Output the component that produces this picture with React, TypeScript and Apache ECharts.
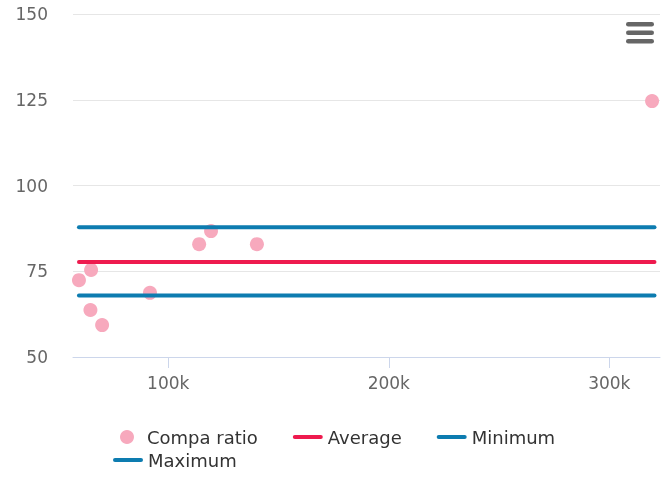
import React, { useEffect, useRef } from "react";
import * as echarts from "echarts";

const salaries = [59500, 65000, 64700, 70000, 91700, 114000, 119400, 140200, 319400];
const compaRatios = [72.4, 75.4, 63.7, 59.3, 68.7, 82.9, 86.7, 82.9, 124.6];
const lineRange = [59500, 320500];
const averageValue = 77.7;
const minimumValue = 67.9;
const maximumValue = 87.8;
const xTicks = [100000, 200000, 300000];

const LINE_ICON = "path://M2,0H28A2,2,0,0,1,28,4H2A2,2,0,0,1,2,0Z";

export default function App() {
  const ref = useRef<HTMLDivElement>(null);
  useEffect(() => {
    if (!ref.current) return;
    const chart = echarts.init(ref.current, undefined, { renderer: "svg" });
    const font = "DejaVu Sans";
    const scatterData = salaries.map((x, i) => [x, compaRatios[i]]);
    const hLine = (v: number) => lineRange.map((x) => [x, v]);
    const lineSeries = (name: string, v: number, color: string) => ({
      name,
      type: "line",
      data: hLine(v),
      symbol: "none",
      lineStyle: { color, width: 4, cap: "round" },
      itemStyle: { color },
      z: 3,
    });
    const legendText = { fontSize: 18, color: "#333333", fontFamily: font };
    chart.setOption({
      animation: false,
      grid: { left: 73, right: 8, top: 14, bottom: 120 },
      xAxis: {
        type: "value",
        min: 56800,
        max: 323000,
        splitLine: { show: false },
        axisLine: { show: true, lineStyle: { color: "#ccd6eb", width: 1 } },
        axisTick: { show: true, length: 11, lineStyle: { color: "#ccd6eb" }, customValues: xTicks },
        axisLabel: {
          customValues: xTicks,
          formatter: (v: number) => v / 1000 + "k",
          color: "#666666",
          fontSize: 17,
          fontFamily: font,
          margin: 17,
        },
      },
      yAxis: {
        type: "value",
        min: 50,
        max: 150,
        interval: 25,
        axisLine: { show: false },
        axisTick: { show: false },
        splitLine: { lineStyle: { color: "#e6e6e6", width: 1 } },
        axisLabel: { color: "#666666", fontSize: 17, fontFamily: font, margin: 25 },
      },
      legend: [
        {
          data: [
            { name: "Compa ratio", icon: "circle" },
            { name: "Average", icon: LINE_ICON },
            { name: "Minimum", icon: LINE_ICON },
          ],
          left: 120,
          top: 428,
          padding: 0,
          itemGap: 35,
          itemWidth: 30,
          itemHeight: 14,
          textStyle: legendText,
        },
        {
          data: [{ name: "Maximum", icon: LINE_ICON }],
          left: 113,
          top: 451,
          padding: 0,
          itemWidth: 30,
          itemHeight: 14,
          textStyle: legendText,
        },
      ],
      series: [
        {
          name: "Compa ratio",
          type: "scatter",
          data: scatterData,
          symbolSize: 14,
          itemStyle: { color: "#f7a9bd", opacity: 1 },
          z: 2,
        },
        lineSeries("Average", averageValue, "#ee1a4e"),
        lineSeries("Minimum", minimumValue, "#0d7cb0"),
        lineSeries("Maximum", maximumValue, "#0d7cb0"),
      ],
      graphic: [0, 1, 2].map((i) => ({
        type: "rect",
        shape: { x: 626, y: 22 + i * 8.5, width: 28, height: 4.5, r: 2.25 },
        style: { fill: "#666666" },
      })),
    });
    return () => chart.dispose();
  }, []);
  return (
    <div
      ref={ref}
      style={{ position: "fixed", left: 0, top: 0, width: 668, height: 477 }}
    />
  );
}
